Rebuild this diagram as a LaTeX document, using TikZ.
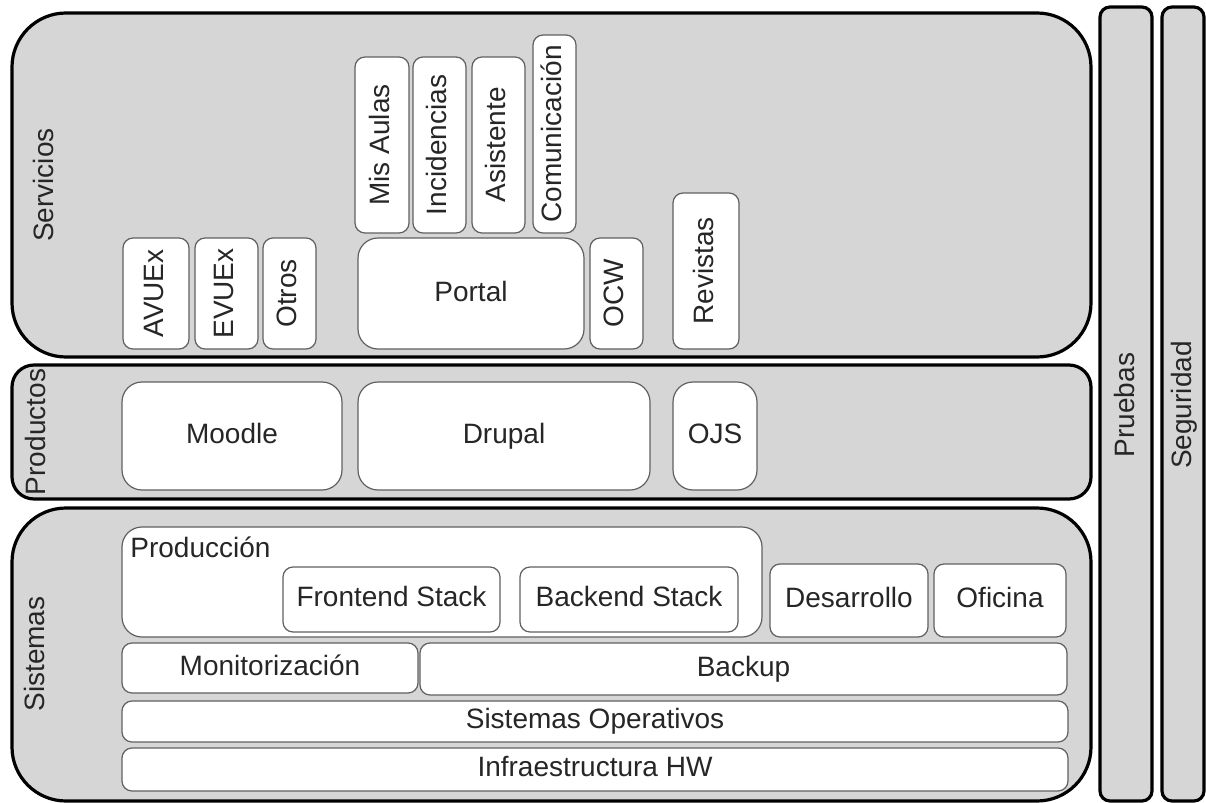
\documentclass[tikz,border=0pt]{standalone}
\usepackage{fontspec}
\setmainfont{Liberation Sans}
\tikzset{
  layer/.style={draw=black, line width=1.6pt, fill=gray!32},
  box/.style={draw=gray!75!black, line width=0.6pt, fill=white, rounded corners=5pt},
  lbl/.style={font=\fontsize{14}{16}\selectfont, text=black!85, inner sep=0pt,
    text height=10pt, text depth=3pt},
}
\begin{document}
\begin{tikzpicture}[x=0.5pt,y=-0.5pt]
  \useasboundingbox (0,0) rectangle (1206,803);
  % capas
  \draw[layer,rounded corners=27pt] (12,13) rectangle (1091,357);
  \draw[layer,rounded corners=11pt] (12,365) rectangle (1091,499);
  \draw[layer,rounded corners=27pt] (12,508) rectangle (1091,801);
  \draw[layer,rounded corners=5pt] (1100,7) rectangle (1152,801);
  \draw[layer,rounded corners=5pt] (1162,7) rectangle (1204,801);
  \node[lbl,rotate=90] (servicios) at (47,185) {Servicios};
  \node[lbl,rotate=90] (productos) at (39,432) {Productos};
  \node[lbl,rotate=90] (sistemas) at (37,654) {Sistemas};
  \node[lbl,rotate=90] (pruebas) at (1127,405) {Pruebas};
  \node[lbl,rotate=90] (seguridad) at (1184,405) {Seguridad};
  % servicios
  \foreach \xa/\ya/\xb/\yb/\name/\txt in {
      123/238/189/349/avuex/AVUEx, 195/238/258/349/evuex/EVUEx,
      263/238/316/349/otros/Otros, 355/57/409/233/aulas/Mis Aulas,
      413/57/466/233/incid/Incidencias, 472/57/525/233/asist/Asistente,
      533/35/576/233/comun/Comunicación, 590/238/643/349/ocw/OCW,
      673/193/739/349/revistas/Revistas}
  {
    \draw[box] (\xa,\ya) rectangle (\xb,\yb);
    \node[lbl,rotate=90] (\name) at ({(\xa+\xb)/2},{(\ya+\yb)/2}) {\txt};
  }
  \draw[box,rounded corners=10pt] (358,238) rectangle (584,349);
  \node[lbl] (portal) at (471,294) {Portal};
  % productos
  \foreach \xa/\xb/\name/\txt in {122/342/moodle/Moodle, 358/650/drupal/Drupal,
      673/757/ojs/OJS}
  {
    \draw[box,rounded corners=10pt] (\xa,382) rectangle (\xb,490);
    \node[lbl] (\name) at ({(\xa+\xb)/2},436) {\txt};
  }
  % sistemas
  \draw[box,rounded corners=10pt] (122,527) rectangle (762,637);
  \node[lbl,anchor=north west] (produccion) at (130,537) {Producción};
  \foreach \xa/\ya/\xb/\yb/\name/\txt in {
      283/567/500/632/front/Frontend Stack, 520/567/738/632/back/Backend Stack,
      770/564/928/637/desarrollo/Desarrollo, 934/564/1066/637/oficina/Oficina,
      122/643/418/693/monit/Monitorización, 420/643/1067/695/backup/Backup,
      122/701/1068/742/so/Sistemas Operativos, 122/748/1068/791/hw/Infraestructura HW}
  {
    \draw[box] (\xa,\ya) rectangle (\xb,\yb);
    \node[lbl] (\name) at ({(\xa+\xb)/2},{(\ya+\yb)/2}) {\txt};
  }
\end{tikzpicture}
\end{document}
